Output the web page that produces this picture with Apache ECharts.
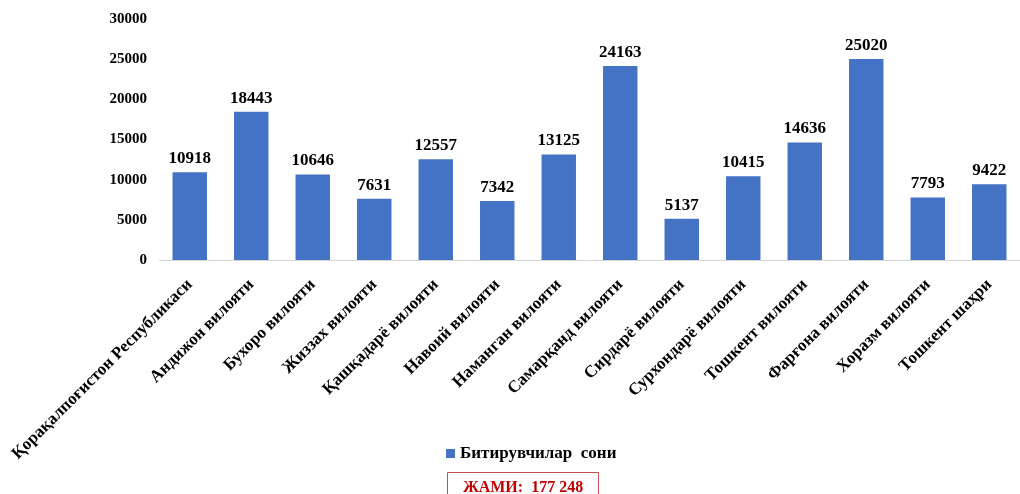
<!DOCTYPE html>
<html><head><meta charset="utf-8">
<script src="https://cdn.jsdelivr.net/npm/echarts@6/dist/echarts.min.js"></script>
<style>html,body{margin:0;padding:0;background:#fff}#c{width:1020px;height:494px}</style>
</head><body><div id="c"></div>
<script>
const categories = ["Қорақалпоғистон Республикаси","Андижон вилояти","Бухоро вилояти","Жиззах вилояти","Қашқадарё вилояти","Навоий вилояти","Наманган вилояти","Самарқанд вилояти","Сирдарё вилояти","Сурхондарё вилояти","Тошкент вилояти","Фарғона вилояти","Хоразм вилояти","Тошкент шаҳри"];
const values = [10918,18443,10646,7631,12557,7342,13125,24163,5137,10415,14636,25020,7793,9422];
const seriesName = "Битирувчилар  сони";
const totalText = "ЖАМИ:  177 248";
const font = "'Liberation Serif','Times New Roman',serif";
const chart = echarts.init(document.getElementById('c'));
chart.setOption({
  animation:false,
  grid:{left:159,right:-14,top:19,bottom:234,containLabel:false},
  legend:{data:[seriesName],bottom:27,left:441,itemWidth:9,itemHeight:9,icon:'rect',itemGap:6,
    textStyle:{fontFamily:font,fontWeight:'bold',fontSize:17,color:'#000'}},
  xAxis:{type:'category',data:categories,
    axisLine:{lineStyle:{color:'#d9d9d9'}},axisTick:{show:false},
    axisLabel:{interval:0,rotate:45,margin:22,fontFamily:font,fontWeight:'bold',fontSize:17,color:'#000'}},
  yAxis:{type:'value',min:0,max:30000,interval:5000,splitLine:{show:false},
    axisLine:{show:false},axisTick:{show:false},
    axisLabel:{margin:12,fontFamily:font,fontWeight:'bold',fontSize:15,color:'#000',formatter:v=>String(v)}},
  series:[{name:seriesName,type:'bar',data:values,barWidth:'56%',
    itemStyle:{color:'#4472C4'},
    label:{show:true,position:'top',distance:5,fontFamily:font,fontWeight:'bold',fontSize:17,color:'#000'}}],
  graphic:[{type:'group',left:447,top:472,children:[
    {type:'rect',shape:{x:0,y:0,width:151,height:30},style:{fill:'#fff',stroke:'#c0504d',lineWidth:1}},
    {type:'text',x:75.5,y:15,style:{text:totalText,fill:'#c00000',font:"bold 16px 'Liberation Serif',serif",textAlign:'center',textVerticalAlign:'middle'}}
  ]}]
});
</script></body></html>
